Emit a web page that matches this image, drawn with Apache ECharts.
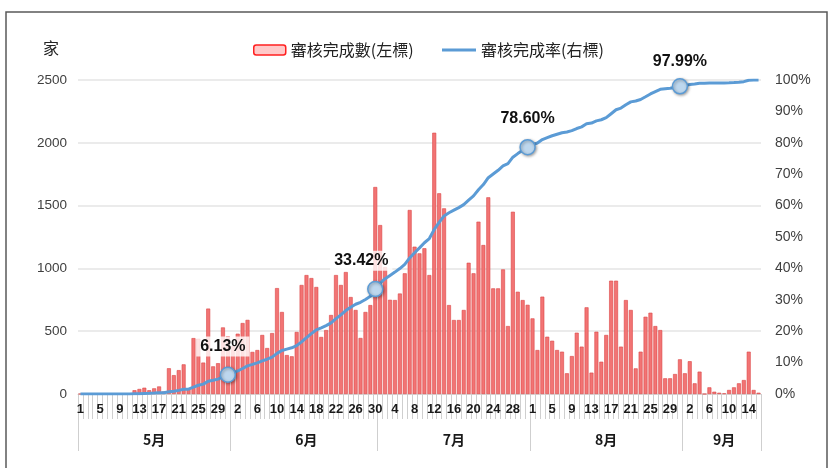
<!DOCTYPE html>
<html><head><meta charset="utf-8">
<script src="https://cdn.jsdelivr.net/npm/echarts@6/dist/echarts.min.js"></script>
<style>html,body{margin:0;padding:0;background:#fff}#c{width:834px;height:468px}</style>
</head><body><div id="c"></div>
<script>
// ---- data ----
const months = ['5月', '6月', '7月', '8月', '9月'];
const monthNums = [5, 6, 7, 8, 9];
const daysShown = [31, 30, 31, 31, 16];

const mayCounts = [0,0,0,0,0,0,0,0,2,3, 5,30,40,50,30,45,60,20,205,150, 190,236,40,445,440,250,680,220,245,530, 460];
const junCounts = [380,480,565,590,335,350,470,366,485,843, 653,310,300,494,868,947,923,852,454,509, 629,947,868,971,772,669,446,653,708,1648];
const julCounts = [1345,1011,750,748,800,961,1465,1173,1120,1160, 947,2080,1598,1478,708,589,589,669,1045,961, 1372,1186,1566,841,841,992,541,1451,814,748, 710];
const augCounts = [602,350,775,456,424,350,337,165,302,488, 377,690,170,496,257,470,902,902,377,748, 669,204,337,615,647,541,509,125,125,159, 276];
const sepCounts = [165,261,85,178,0,53,18,10,5,32, 53,85,111,337,32,10];

const mayRate = [0,0,0,0,0,0,0,0,0.00,0.01, 0.01,0.06,0.11,0.18,0.22,0.29,0.37,0.40,0.69,0.90, 1.16,1.49,1.55,2.17,2.79,3.14,4.09,4.40,4.74,5.48, 6.13];
const junRate = [6.66,7.33,8.12,8.95,9.42,9.91,10.57,11.08,11.76,12.94, 13.86,14.29,14.71,15.40,16.62,17.94,19.24,20.43,21.07,21.78, 22.66,23.99,25.20,26.56,27.64,28.58,29.20,30.12,31.11,33.42];
const julRate = [35.30,36.72,37.77,38.82,39.94,41.28,43.33,44.98,46.55,48.17, 49.50,52.41,54.65,56.72,57.71,58.54,59.36,60.30,61.76,63.11, 65.03,66.69,68.88,70.06,71.24,72.63,73.39,75.42,76.56,77.61, 78.60];
const augRate = [79.44,79.93,81.02,81.66,82.25,82.74,83.21,83.44,83.87,84.55, 85.08,86.04,86.28,86.98,87.34,88.00,89.26,90.52,91.05,92.10, 93.03,93.32,93.79,94.65,95.56,96.32,97.03,97.21,97.38,97.60, 97.99];
const sepRate = [98.22,98.59,98.71,98.96,98.96,99.03,99.05,99.07,99.08,99.12, 99.19,99.31,99.47,99.94,99.99,100.00];

const markerDays = ['5/31', '6/30', '7/31', '8/31'];
const markerLabels = ['6.13%', '33.42%', '78.60%', '97.99%'];

const leftTicks = { min: 0, max: 2500, interval: 500 };
const rightTicks = { min: 0, max: 100, interval: 10 };

const barName = '審核完成數(左標)';
const lineName = '審核完成率(右標)';
const unitName = '家';

// ---- build ----
const categories = [];
monthNums.forEach((m, i) => { for (let d = 1; d <= daysShown[i]; d++) categories.push(m + '/' + d); });
const counts = [].concat(mayCounts, junCounts, julCounts, augCounts, sepCounts);
const rates = [].concat(mayRate, junRate, julRate, augRate, sepRate);
const monthStart = []; let acc = 0;
daysShown.forEach(n => { monthStart.push(acc); acc += n; });
const monthLabelIdx = monthStart.map((s, i) => s + Math.floor(daysShown[i] / 2));

const labelOffsets = [[-5, 0], [-14, 0], [0, 0], [0, 4]];
const lineData = rates.map((v, i) => {
  const mi = markerDays.indexOf(categories[i]);
  if (mi < 0) return v;
  return { value: v, symbolSize: 15,
    label: { show: true, formatter: markerLabels[mi], offset: labelOffsets[mi] } };
});

const FONT = "'Liberation Sans', Arial, 'Noto Sans CJK TC', sans-serif";
const CJK = "'Noto Sans CJK TC', 'Liberation Sans', sans-serif";

const chart = echarts.init(document.getElementById('c'), null, { renderer: 'canvas' });
chart.setOption({
  animation: false,
  backgroundColor: '#ffffff',
  textStyle: { fontFamily: FONT },
  title: { text: unitName, left: 38, top: 35,
    textStyle: { fontSize: 16, fontWeight: 'normal', color: '#222', fontFamily: CJK } },
  legend: [
    { left: 248, top: 37, itemWidth: 32, itemHeight: 10, itemGap: 4, selectedMode: false,
      data: [{ name: barName, itemStyle: { color: '#FFC9C9', borderColor: '#FF2020', borderWidth: 1.5 } }],
      textStyle: { fontSize: 16, color: '#222', fontFamily: CJK } },
    { left: 437, top: 37, itemWidth: 34, itemHeight: 3, itemGap: 4, selectedMode: false,
      data: [{ name: lineName, icon: 'rect', itemStyle: { color: '#5B9BD5', borderWidth: 0 } }],
      textStyle: { fontSize: 16, color: '#222', fontFamily: CJK } }
  ],
  graphic: [{ type: 'rect', silent: true, z: -10,
    shape: { x: 6, y: 12, width: 821, height: 470 },
    style: { fill: 'none', stroke: '#595959', lineWidth: 1.5 } }],
  grid: { left: 78, right: 73, top: 80, bottom: 74 },
  xAxis: [
    { type: 'category', data: categories, boundaryGap: true,
      axisLine: { show: true, lineStyle: { color: '#d9d9d9' } },
      axisTick: { show: true, interval: 0, length: 25, lineStyle: { color: '#cfcfcf', width: 1 } },
      axisLabel: { interval: 3, formatter: v => v.split('/')[1], fontSize: 13, fontWeight: 'bold',
        color: '#1a1a1a', margin: 9 } },
    { type: 'category', data: categories, boundaryGap: true, position: 'bottom',
      axisLine: { show: false },
      axisTick: { show: true, interval: (i, v) => v.split('/')[1] === '1', length: 57,
        lineStyle: { color: '#cfcfcf', width: 1 } },
      axisLabel: { interval: (i) => monthLabelIdx.indexOf(i) >= 0,
        formatter: v => months[monthNums.indexOf(+v.split('/')[0])],
        fontSize: 14, fontWeight: 'bold', color: '#1a1a1a', margin: 39, fontFamily: CJK } }
  ],
  yAxis: [
    { type: 'value', min: leftTicks.min, max: leftTicks.max, interval: leftTicks.interval,
      axisLine: { show: false }, axisTick: { show: false },
      splitLine: { lineStyle: { color: '#e4e4e4', width: 1.5 } },
      axisLabel: { fontSize: 13.5, color: '#404040', margin: 11, formatter: v => String(v) } },
    { type: 'value', min: rightTicks.min, max: rightTicks.max, interval: rightTicks.interval,
      axisLine: { show: false }, axisTick: { show: false }, splitLine: { show: false },
      axisLabel: { fontSize: 14, color: '#404040', margin: 14, formatter: v => v + '%' } }
  ],
  series: [
    { name: barName, type: 'bar', data: counts, barCategoryGap: '20%',
      itemStyle: { color: '#F27474', borderColor: '#DC4444', borderWidth: 0.6 } },
    { name: lineName, type: 'line', yAxisIndex: 1, data: lineData, z: 5,
      symbol: 'circle', symbolSize: 0, showSymbol: true, showAllSymbol: true,
      lineStyle: { color: '#5B9BD5', width: 3 },
      itemStyle: { color: '#BDD7EE', borderColor: '#5B9BD5', borderWidth: 1.5,
        shadowBlur: 3, shadowColor: 'rgba(0,0,0,0.35)', shadowOffsetX: 1, shadowOffsetY: 1 },
      label: { show: false, position: 'top', distance: 10, fontSize: 16, fontWeight: 'bold',
        color: '#111', backgroundColor: 'rgba(255,255,255,0.8)', padding: [2, 4] },
      emphasis: { disabled: true } }
  ]
});
</script></body></html>
